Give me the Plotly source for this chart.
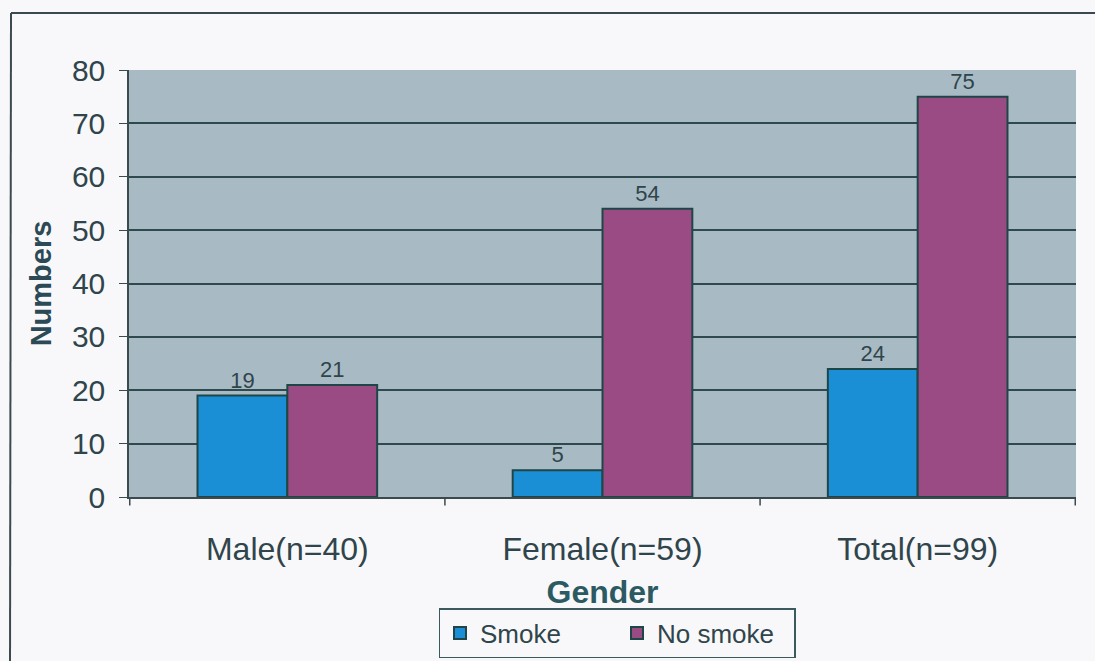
import plotly.graph_objects as go

categories = ["Male(n=40)", "Female(n=59)", "Total(n=99)"]
smoke = [19, 5, 24]
no_smoke = [21, 54, 75]
y_ticks = [0, 10, 20, 30, 40, 50, 60, 70, 80]

text_col = "#2f454b"
outline = "#1f4646"

fig = go.Figure()
fig.add_trace(go.Bar(name="Smoke", x=categories, y=smoke, text=smoke,
                     textposition="outside", marker=dict(color="#1b8fd6", line=dict(color=outline, width=2)),
                     textfont=dict(size=22, color=text_col), cliponaxis=False))
fig.add_trace(go.Bar(name="No smoke", x=categories, y=no_smoke, text=no_smoke,
                     textposition="outside", marker=dict(color="#9a4b84", line=dict(color=outline, width=2)),
                     textfont=dict(size=22, color=text_col), cliponaxis=False))

L, T, W, H = 129, 70, 947, 427
def px(x): return (x - L) / W
def py(y): return (T + H - y) / H

fig.update_layout(
    width=1095, height=661,
    margin=dict(l=L, r=1095 - L - W, t=T, b=661 - T - H, autoexpand=False),
    paper_bgcolor="#f8f8fa", plot_bgcolor="#a8bbc5",
    barmode="group", bargap=0.43, bargroupgap=0,
    font=dict(family="Liberation Sans, Arial", color=text_col),
    showlegend=True,
    legend=dict(orientation="h", x=px(617), y=py(633), xanchor="center", yanchor="middle",
                bordercolor="#3a5a5e", borderwidth=1.5, bgcolor="#f8f8fa",
                font=dict(size=26, color=text_col), itemsizing="constant",
                tracegroupgap=0, itemwidth=30, entrywidth=132),
    xaxis=dict(showline=True, linecolor="#3a4a4e", linewidth=1.5, ticks="",
               tickfont=dict(size=32, color=text_col), ticklabelstandoff=23,
               title=dict(text="<b>Gender</b>", font=dict(size=32, color="#2c5a62"), standoff=14),
               showgrid=False),
    yaxis=dict(range=[0, 80], tickvals=y_ticks, showgrid=True, gridcolor="#2e4a4e", gridwidth=1.5,
               showline=True, linecolor="#3a4a4e", linewidth=1.5, ticks="outside", ticklen=8,
               tickcolor="#3a4a4e", tickfont=dict(size=30, color=text_col), ticklabelstandoff=8,
               title=dict(text="<b>Numbers</b>", font=dict(size=29, color="#2c4a55"), standoff=12),
               zeroline=False),
)

# category boundary ticks on x axis
for i in range(len(categories) + 1):
    fig.add_shape(type="line", xref="x", yref="paper", x0=i - 0.5, x1=i - 0.5, y0=0, y1=-0.02,
                  line=dict(color="#3a4a4e", width=1.5))

# outer frame (left & top edges, extending past image)
fig.add_shape(type="line", xref="paper", yref="paper", x0=px(11), x1=px(1100), y0=py(13), y1=py(13),
              line=dict(color="#3a4a4e", width=2))
fig.add_shape(type="line", xref="paper", yref="paper", x0=px(11), x1=px(10), y0=py(13), y1=py(670),
              line=dict(color="#3a4a4e", width=2))

fig.write_html("out.html")
